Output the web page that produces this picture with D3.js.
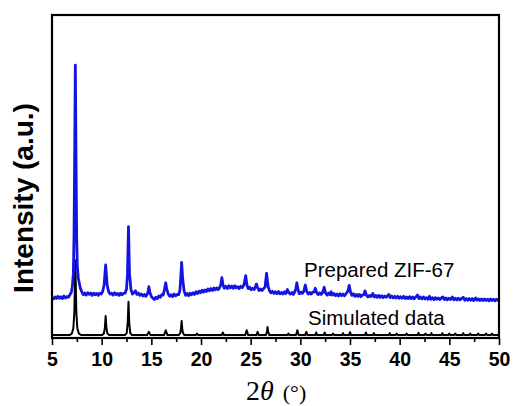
<!DOCTYPE html>
<html>
<head>
<meta charset="utf-8">
<script src="https://cdn.jsdelivr.net/npm/d3@7"></script>
<style>
  html, body { margin: 0; padding: 0; background: #fff; }
  svg { display: block; }
</style>
</head>
<body>
<svg id="chart" width="515" height="406"></svg>
<script>
// Powder XRD patterns: [2θ (°), intensity (a.u.)]
const prepared = [
  [5.0,12.6],[5.15,12.1],[5.3,12.7],[5.45,12.2],[5.6,12.9],[5.75,12.3],[5.9,12.8],[6.05,12.2],
  [6.2,13.0],[6.35,12.4],[6.5,12.8],[6.65,12.6],[6.8,13.4],[6.95,14.2],[7.05,16.0],[7.15,20],
  [7.22,32],[7.28,55],[7.35,84.5],[7.42,55],[7.48,32],[7.55,22],[7.65,18.5],[7.75,17.0],[7.85,15.5],
  [8.0,14.3],[8.15,13.4],[8.3,13.9],[8.45,13.3],[8.6,14.0],[8.75,13.5],[8.9,13.9],[9.05,13.2],
  [9.2,13.9],[9.35,13.4],[9.5,13.8],[9.65,13.2],[9.8,13.9],[9.95,13.6],[10.1,14.4],
  [10.25,16.5],[10.4,22.6],[10.55,16.5],[10.7,14.3],[10.85,13.6],[11.0,13.9],[11.15,13.3],[11.3,14.0],
  [11.45,13.4],[11.6,13.8],[11.75,13.2],[11.9,13.9],[12.05,13.4],[12.2,13.8],[12.35,13.9],
  [12.5,15.0],[12.6,20],[12.7,34.5],[12.8,20],[12.95,15],[13.1,13.6],[13.25,14.1],[13.4,14.6],
  [13.55,13.5],[13.7,13.9],[13.85,13.2],[14.0,13.6],[14.15,13.0],[14.3,13.5],[14.45,12.9],
  [14.6,13.6],[14.68,14.6],[14.75,15.9],[14.85,14.2],[15.0,12.9],[15.15,12.3],[15.3,11.9],
  [15.45,12.6],[15.6,12.2],[15.75,13.0],[15.9,12.6],[16.05,13.4],[16.2,13.3],[16.35,15.5],
  [16.45,17.1],[16.55,15.2],[16.7,13.6],[16.85,12.9],[17.0,13.4],[17.15,12.8],[17.3,13.6],
  [17.45,13.0],[17.6,13.5],[17.75,13.4],[17.88,14.8],[17.97,19],[18.05,23.4],[18.15,18.5],
  [18.3,14.6],[18.45,13.2],[18.6,13.8],[18.75,13.1],[18.9,13.9],[19.05,13.4],[19.2,14.0],
  [19.35,13.5],[19.5,14.3],[19.65,13.8],[19.8,14.5],[19.95,14.0],[20.1,14.8],[20.25,14.2],
  [20.4,14.9],[20.55,14.4],[20.7,15.2],[20.85,14.6],[21.0,15.3],[21.15,14.7],[21.3,15.5],
  [21.45,14.9],[21.6,15.5],[21.75,15.0],[21.9,15.7],[22.0,16.6],[22.1,18.7],[22.22,16.4],
  [22.35,15.4],[22.5,16.0],[22.65,15.3],[22.8,16.2],[22.95,15.5],[23.1,16.1],[23.25,15.4],
  [23.4,16.2],[23.55,15.5],[23.7,15.9],[23.85,15.3],[24.0,16.0],[24.15,15.6],[24.3,16.3],
  [24.4,17.6],[24.5,19.3],[24.62,16.5],[24.75,15.3],[24.9,15.7],[25.05,14.9],[25.2,15.4],
  [25.35,15.0],[25.48,15.8],[25.58,16.7],[25.7,15.6],[25.85,14.7],[26.0,15.2],[26.15,14.7],
  [26.3,15.3],[26.45,15.8],[26.6,20.0],[26.75,16.0],[26.9,14.6],[27.05,14.0],[27.2,14.5],
  [27.35,13.8],[27.5,14.3],[27.65,13.7],[27.8,14.4],[27.95,13.7],[28.1,14.1],[28.25,13.6],
  [28.4,14.3],[28.55,13.8],[28.7,15.0],[28.85,14.0],[29.0,13.6],[29.15,14.1],[29.3,13.5],
  [29.45,14.4],[29.55,15.3],[29.65,17.1],[29.78,14.8],[29.9,13.7],[30.05,14.2],[30.2,13.8],
  [30.35,14.5],[30.5,16.4],[30.65,14.4],[30.8,13.6],[30.95,14.1],[31.1,13.6],[31.25,14.2],
  [31.4,14.3],[31.5,15.4],[31.65,14.0],[31.8,13.4],[31.95,14.0],[32.1,13.5],[32.25,14.1],
  [32.4,15.7],[32.55,13.9],[32.7,13.3],[32.85,13.9],[33.0,13.4],[33.1,14.3],[33.25,13.3],
  [33.4,13.8],[33.55,13.1],[33.7,13.6],[33.85,13.0],[34.0,13.7],[34.15,13.1],[34.3,13.6],
  [34.45,13.1],[34.6,13.7],[34.8,14.6],[34.92,16.3],[35.05,14.2],[35.2,13.2],[35.35,13.7],
  [35.5,12.9],[35.65,13.5],[35.8,12.9],[35.95,13.5],[36.1,12.8],[36.25,13.3],[36.4,13.4],
  [36.5,14.6],[36.65,13.3],[36.8,12.7],[36.95,13.2],[37.1,12.8],[37.3,13.8],[37.45,12.7],
  [37.6,13.2],[37.75,12.6],[37.9,13.2],[38.05,12.6],[38.2,13.1],[38.35,12.5],[38.5,13.0],
  [38.65,12.6],[38.9,13.5],[39.05,12.5],[39.2,13.0],[39.35,12.4],[39.5,12.9],[39.65,12.4],
  [39.8,12.9],[39.95,12.3],[40.1,12.8],[40.25,12.3],[40.4,12.9],[40.55,12.2],[40.7,12.7],
  [40.85,12.2],[41.0,12.8],[41.15,12.2],[41.3,12.7],[41.45,12.1],[41.6,12.6],[41.8,13.3],
  [41.95,12.2],[42.1,12.7],[42.25,12.1],[42.4,12.7],[42.55,12.1],[42.7,12.5],[42.85,12.0],
  [43.0,12.9],[43.15,12.0],[43.3,12.5],[43.45,11.9],[43.6,12.5],[43.75,12.0],[43.9,12.4],
  [44.05,11.9],[44.2,12.4],[44.35,12.7],[44.5,11.9],[44.65,12.4],[44.8,11.8],[44.95,12.3],
  [45.1,11.9],[45.3,12.7],[45.45,11.8],[45.6,12.3],[45.75,11.8],[45.9,12.3],[46.05,11.8],
  [46.2,12.2],[46.4,12.6],[46.55,11.7],[46.7,12.2],[46.85,11.7],[47.0,12.2],[47.15,11.7],
  [47.3,12.2],[47.45,11.6],[47.65,12.4],[47.8,11.7],[47.95,12.1],[48.1,11.6],[48.25,12.1],
  [48.4,11.6],[48.55,12.1],[48.7,11.6],[48.85,12.0],[49.0,11.5],[49.15,12.1],[49.3,11.6],
  [49.45,12.0],[49.6,11.5],[49.75,12.0],[49.9,11.6],[50.0,11.9]
];

const simulated = [
  [5.0,0.9],[6.8,0.9],[7.0,1.4],[7.15,3],[7.25,8],[7.3,16],[7.35,24],[7.4,16],[7.45,8],[7.55,3],[7.7,1.4],[7.95,0.9],
  [10.05,0.9],[10.22,1.4],[10.32,3.0],[10.4,6.8],[10.48,3.0],[10.58,1.4],[10.75,0.9],
  [12.35,0.9],[12.52,1.5],[12.62,4.5],[12.7,11.2],[12.78,4.5],[12.88,1.5],[13.05,0.9],
  [14.58,0.9],[14.75,1.9],[14.92,0.9],
  [16.28,0.9],[16.45,2.4],[16.62,0.9],
  [17.78,0.9],[17.92,1.6],[17.99,3],[18.05,5.3],[18.11,3],[18.18,1.6],[18.32,0.9],
  [19.5,0.9],[19.6,1.4],[19.7,0.9],
  [22.08,0.9],[22.2,1.7],[22.32,0.9],
  [24.45,0.9],[24.6,2.4],[24.75,0.9],
  [25.58,0.9],[25.7,1.9],[25.82,0.9],
  [26.52,0.9],[26.63,1.8],[26.7,3.4],[26.77,1.8],[26.88,0.9],
  [28.7,0.9],[28.8,1.4],[28.9,0.9],
  [29.57,0.9],[29.7,2.4],[29.83,0.9],
  [30.48,0.9],[30.6,1.9],[30.72,0.9],
  [31.5,0.9],[31.6,1.7],[31.7,0.9],
  [32.35,0.9],[32.45,1.7],[32.55,0.9],
  [33.2,0.9],[33.3,1.4],[33.4,0.9],
  [34.2,0.9],[34.3,1.5],[34.4,0.9],
  [34.9,0.9],[35.0,1.8],[35.1,0.9],
  [36.5,0.9],[36.6,1.7],[36.7,0.9],
  [37.3,0.9],[37.4,1.5],[37.5,0.9],
  [38.9,0.9],[39.0,1.5],[39.1,0.9],
  [39.6,0.9],[39.7,1.4],[39.8,0.9],
  [40.6,0.9],[40.7,1.4],[40.8,0.9],
  [41.8,0.9],[41.9,1.6],[42.0,0.9],
  [42.5,0.9],[42.6,1.4],[42.7,0.9],
  [43.1,0.9],[43.2,1.5],[43.3,0.9],
  [44.2,0.9],[44.3,1.5],[44.4,0.9],
  [44.9,0.9],[45.0,1.4],[45.1,0.9],
  [45.5,0.9],[45.6,1.4],[45.7,0.9],
  [46.3,0.9],[46.4,1.5],[46.5,0.9],
  [47.0,0.9],[47.1,1.4],[47.2,0.9],
  [47.8,0.9],[47.9,1.4],[48.0,0.9],
  [48.6,0.9],[48.7,1.4],[48.8,0.9],
  [49.2,0.9],[49.3,1.4],[49.4,0.9],
  [50.0,0.9]
];

const majorTicks = [5, 10, 15, 20, 25, 30, 35, 40, 45, 50];
const minorTicks = [7.5, 12.5, 17.5, 22.5, 27.5, 32.5, 37.5, 42.5, 47.5];
const seriesLabels = ["Prepared ZIF-67", "Simulated data"];
const yTitle = "Intensity (a.u.)";

const svg = d3.select("#chart");
const plot = { left: 52, right: 499, top: 15, bottom: 338 };

const x = d3.scaleLinear().domain([5, 50]).range([plot.left, plot.right]);
const y = d3.scaleLinear().domain([0, 100]).range([plot.bottom, plot.top]);

const line = d3.line().x(d => x(d[0])).y(d => y(d[1]));

// patterns
svg.append("path").datum(simulated)
  .attr("d", line).attr("fill", "none")
  .attr("stroke", "#000").attr("stroke-width", 2).attr("stroke-linejoin", "round");

svg.append("path").datum(prepared)
  .attr("d", line).attr("fill", "none")
  .attr("stroke", "#1414e0").attr("stroke-width", 2.8).attr("stroke-linejoin", "round");

// bottom axis: major ticks with labels, minor ticks between
const xAxis = svg.append("g").attr("transform", `translate(0,${plot.bottom})`)
  .call(d3.axisBottom(x).tickValues(majorTicks).tickSize(7).tickPadding(7).tickFormat(d3.format("d")));
xAxis.select(".domain").remove();
xAxis.selectAll(".tick line").attr("stroke", "#000").attr("stroke-width", 1.6);
xAxis.selectAll(".tick text")
  .attr("font-family", "'Liberation Sans', Arial, sans-serif")
  .attr("font-weight", "bold").attr("font-size", 19.5).attr("fill", "#000");

const xMinor = svg.append("g").attr("transform", `translate(0,${plot.bottom})`)
  .call(d3.axisBottom(x).tickValues(minorTicks).tickSize(4).tickFormat(""));
xMinor.select(".domain").remove();
xMinor.selectAll(".tick line").attr("stroke", "#000").attr("stroke-width", 1.6);

// frame
svg.append("rect")
  .attr("x", plot.left).attr("y", plot.top)
  .attr("width", plot.right - plot.left).attr("height", plot.bottom - plot.top)
  .attr("fill", "none").attr("stroke", "#000").attr("stroke-width", 2.2);

// series labels
svg.append("text").attr("x", 304).attr("y", 277)
  .attr("font-family", "'Liberation Sans', Arial, sans-serif").attr("font-size", 20.5)
  .attr("fill", "#000").text(seriesLabels[0]);
svg.append("text").attr("x", 308).attr("y", 325)
  .attr("font-family", "'Liberation Sans', Arial, sans-serif").attr("font-size", 20.5)
  .attr("fill", "#000").text(seriesLabels[1]);

// y title
svg.append("text")
  .attr("transform", "translate(33,198) rotate(-90)")
  .attr("text-anchor", "middle")
  .attr("font-family", "'Liberation Sans', Arial, sans-serif")
  .attr("font-weight", "bold").attr("font-size", 28).attr("fill", "#000")
  .text(yTitle);

// x title: 2θ (°)
const xt = svg.append("text")
  .attr("x", 246).attr("y", 400)
  .attr("font-family", "'Liberation Serif', 'Times New Roman', serif")
  .attr("fill", "#000");
xt.append("tspan").attr("font-size", 28).text("2");
xt.append("tspan").attr("font-size", 28).attr("font-style", "italic").text("θ");
xt.append("tspan").attr("font-size", 22).attr("dx", 9).text("(°)");
</script>
</body>
</html>
